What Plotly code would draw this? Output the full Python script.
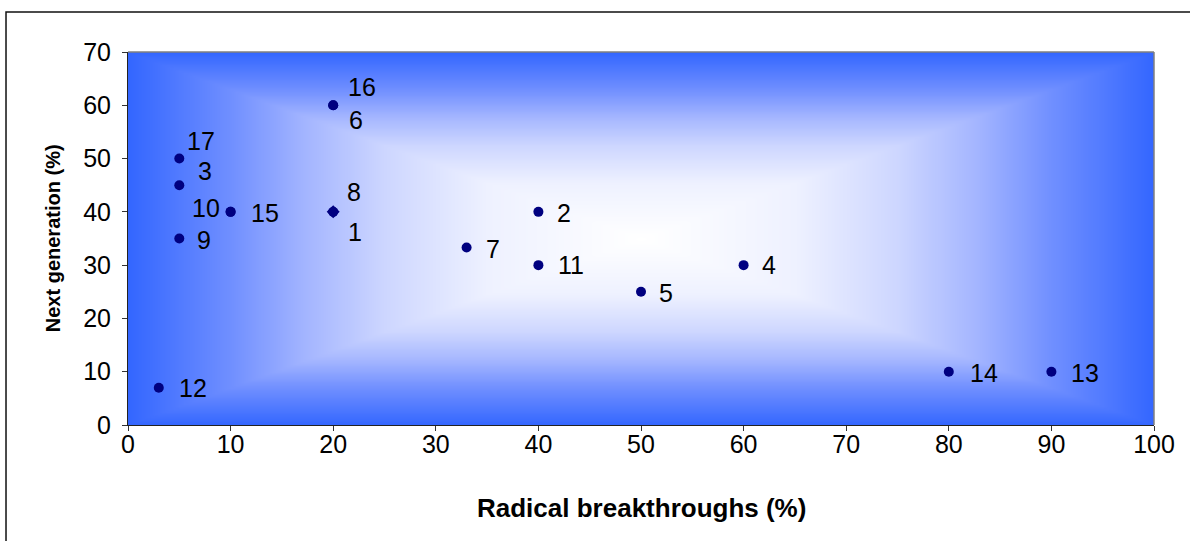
import numpy as np
import plotly.graph_objects as go

# Project scores: share of radical breakthroughs vs. next-generation work
project_ids = ["16", "6", "17", "3", "10", "15", "9", "8", "1",
               "2", "7", "11", "4", "5", "14", "13", "12"]
radical_pct = [20, 20, 5, 5, 10, 10, 5, 20, 20, 40, 33, 40, 60, 50, 80, 90, 3]
next_gen_pct = [60, 60, 50, 45, 40, 40, 35, 40, 40, 40, 33.3, 30, 30, 25, 10, 10, 7]

x_ticks = list(range(0, 101, 10))
y_ticks = list(range(0, 71, 10))

# label placement (pixel offsets from the marker) and marker symbols
label_dx = [13, 14, 6, 17, -9, 18, 16, 12, 13, 17, 17, 18, 16, 16, 19, 18, 18]
label_dy = [18, -15, 18, 14, 4, -1, -1, 20, -20, -1, -1, 0, 0, -1, -1, -1, 0]
symbols = ["circle"] * 17
symbols[project_ids.index("1")] = "diamond"

FONT = "Liberation Sans, Arial, sans-serif"
X_MAX, Y_MAX = 100, 70

fig = go.Figure()

# rectangular "from centre" gradient: white in the middle, blue at the edges
gx = np.linspace(0, X_MAX, 201)
gy = np.linspace(0, Y_MAX, 141)
GX, GY = np.meshgrid(gx, gy)
gz = np.maximum(np.abs(GX - X_MAX / 2) / (X_MAX / 2), np.abs(GY - Y_MAX / 2) / (Y_MAX / 2))
fig.add_trace(go.Heatmap(
    x=gx, y=gy, z=gz, zmin=0, zmax=1, zsmooth="best", showscale=False,
    hoverinfo="skip",
    colorscale=[[0.0, "rgb(255,255,255)"], [0.3, "rgb(238,241,255)"],
                [0.5, "rgb(205,214,255)"], [0.65, "rgb(165,182,255)"],
                [0.8, "rgb(112,143,255)"], [1.0, "rgb(51,102,255)"]],
))

fig.add_trace(go.Scatter(
    x=radical_pct, y=next_gen_pct, mode="markers",
    marker=dict(size=10, color="#000080", symbol=symbols,
                line=dict(width=0)),
    hovertext=project_ids, hoverinfo="text+x+y", showlegend=False,
))

annotations = []
for pid, xv, yv, dx, dy in zip(project_ids, radical_pct, next_gen_pct, label_dx, label_dy):
    annotations.append(dict(
        x=xv, y=yv, xref="x", yref="y", text=pid, showarrow=False,
        xanchor="left" if dx > 0 else "right", yanchor="middle",
        xshift=dx, yshift=dy,
        font=dict(family=FONT, size=25, color="black"),
    ))

# axis titles
annotations.append(dict(
    x=0.5, y=-0.2225, xref="paper", yref="paper", showarrow=False,
    text="<b>Radical breakthroughs (%)</b>", xanchor="center", yanchor="middle",
    font=dict(family=FONT, size=26, color="black"),
))
annotations.append(dict(
    x=-0.0730, y=0.501, xref="paper", yref="paper", showarrow=False,
    text="<b>Next generation (%)</b>", textangle=-90,
    xanchor="center", yanchor="middle",
    font=dict(family=FONT, size=20, color="black"),
))

axis_common = dict(
    showgrid=False, zeroline=False, ticks="outside", ticklen=5,
    tickcolor="#333333", showline=True, linecolor="#222222", linewidth=1,
    tickfont=dict(family=FONT, size=25, color="black"), fixedrange=True,
)

fig.update_layout(
    width=1190, height=541,
    margin=dict(l=128, r=36, t=52, b=116),
    paper_bgcolor="white", plot_bgcolor="white",
    xaxis=dict(range=[0, X_MAX], tickvals=x_ticks, ticklabelstandoff=-8, **axis_common),
    yaxis=dict(range=[0, Y_MAX], tickvals=y_ticks, ticklabelstandoff=6, **axis_common),
    annotations=annotations,
    shapes=[
        # grey frame on the top and right of the plot area
        dict(type="line", xref="paper", yref="paper", x0=0, x1=1, y0=1, y1=1,
             line=dict(color="#808080", width=1.5), layer="above"),
        dict(type="line", xref="paper", yref="paper", x0=1, x1=1, y0=0, y1=1,
             line=dict(color="#808080", width=1.5), layer="above"),
        # chart-area border
        dict(type="rect", xref="paper", yref="paper",
             x0=-0.1189, x1=1.2, y0=-0.5, y1=1.1072,
             line=dict(color="#111111", width=1.5), fillcolor="rgba(0,0,0,0)"),
    ],
    showlegend=False,
)

fig.write_html("out.html")
